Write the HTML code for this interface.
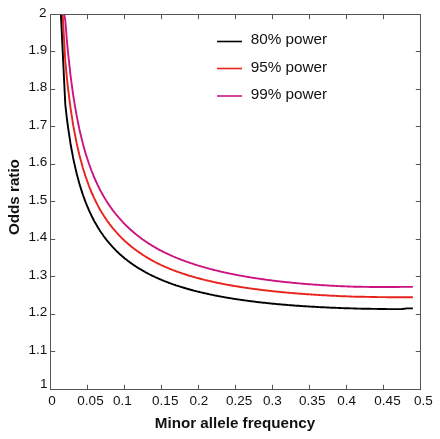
<!DOCTYPE html>
<html><head><meta charset="utf-8"><title>Power curves</title>
<style>
html,body{margin:0;padding:0;background:#fff;}
svg{display:block;font-family:"Liberation Sans",sans-serif;}
</style></head><body>
<svg width="440" height="439" viewBox="0 0 440 439">
<rect width="440" height="439" fill="#fff"/>
<g fill="none" stroke-width="1.9" stroke-linejoin="round" stroke-linecap="butt">
<path d="M64.2,14.5 L65.3,20.5 L66.2,31.6 L67.0,41.8 L67.9,51.1 L68.8,59.7 L69.7,67.7 L70.5,75.1 L71.4,82.0 L72.3,88.5 L73.1,94.5 L74.0,100.2 L74.9,105.6 L75.8,110.6 L76.6,115.4 L77.5,119.9 L78.4,124.3 L79.2,128.4 L80.1,132.3 L81.0,136.0 L81.9,139.6 L82.7,143.0 L83.6,146.2 L84.5,149.4 L85.3,152.4 L86.2,155.2 L87.1,158.0 L88.0,160.7 L88.8,163.3 L89.7,165.8 L90.6,168.2 L91.4,170.5 L92.3,172.7 L93.2,174.9 L94.0,177.0 L94.9,179.0 L95.8,181.0 L96.7,182.9 L97.5,184.7 L98.4,186.5 L99.3,188.3 L100.1,190.0 L101.0,191.6 L101.9,193.2 L102.8,194.8 L103.6,196.3 L104.5,197.8 L105.4,199.2 L106.2,200.6 L107.1,202.0 L108.0,203.4 L108.9,204.7 L109.7,205.9 L110.6,207.2 L111.5,208.4 L112.3,209.6 L113.2,210.8 L114.1,211.9 L115.0,213.0 L115.8,214.1 L116.7,215.2 L117.6,216.2 L118.4,217.2 L119.3,218.2 L120.2,219.2 L121.1,220.2 L121.9,221.1 L122.8,222.1 L123.7,223.0 L124.5,223.9 L125.4,224.8 L126.3,225.6 L127.2,226.5 L128.0,227.3 L128.9,228.1 L129.8,229.0 L130.6,229.7 L131.5,230.5 L132.4,231.3 L133.3,232.0 L134.1,232.8 L135.0,233.5 L135.9,234.2 L136.7,234.9 L137.6,235.6 L138.5,236.3 L139.4,236.9 L140.2,237.6 L141.1,238.2 L142.0,238.9 L142.8,239.5 L143.7,240.1 L144.6,240.7 L145.4,241.3 L146.3,241.9 L147.2,242.5 L148.1,243.1 L148.9,243.6 L149.8,244.2 L150.7,244.7 L151.5,245.3 L152.4,245.8 L153.3,246.3 L154.2,246.9 L155.0,247.4 L155.9,247.9 L156.8,248.4 L157.6,248.9 L158.5,249.3 L159.4,249.8 L160.3,250.3 L161.1,250.7 L162.0,251.2 L162.9,251.6 L163.7,252.1 L164.6,252.5 L165.5,252.9 L166.4,253.3 L167.2,253.7 L168.1,254.1 L169.0,254.5 L169.8,254.9 L170.7,255.3 L171.6,255.7 L172.5,256.1 L173.3,256.5 L174.2,256.9 L175.1,257.2 L175.9,257.6 L176.8,257.9 L177.7,258.3 L178.6,258.6 L179.4,259.0 L180.3,259.3 L181.2,259.7 L182.0,260.0 L182.9,260.3 L183.8,260.7 L184.7,261.0 L185.5,261.3 L186.4,261.6 L187.3,261.9 L188.1,262.2 L189.0,262.5 L189.9,262.8 L190.7,263.1 L191.6,263.4 L192.5,263.7 L193.4,264.0 L194.2,264.3 L195.1,264.6 L196.0,264.8 L196.8,265.1 L197.7,265.4 L198.6,265.6 L199.5,265.9 L200.3,266.2 L201.2,266.4 L202.1,266.7 L202.9,266.9 L203.8,267.2 L204.7,267.4 L205.6,267.7 L206.4,267.9 L207.3,268.2 L208.2,268.4 L209.0,268.6 L209.9,268.9 L210.8,269.1 L211.7,269.3 L212.5,269.6 L213.4,269.8 L214.3,270.0 L215.1,270.2 L216.0,270.4 L216.9,270.6 L217.8,270.8 L218.6,271.1 L219.5,271.3 L220.4,271.5 L221.2,271.7 L222.1,271.9 L223.0,272.1 L223.9,272.3 L224.7,272.5 L225.6,272.6 L226.5,272.8 L227.3,273.0 L228.2,273.2 L229.1,273.4 L230.0,273.6 L230.8,273.8 L231.7,273.9 L232.6,274.1 L233.4,274.3 L234.3,274.5 L235.2,274.6 L236.1,274.8 L236.9,275.0 L237.8,275.1 L238.7,275.3 L239.5,275.5 L240.4,275.6 L241.3,275.8 L242.1,275.9 L243.0,276.1 L243.9,276.3 L244.8,276.4 L245.6,276.6 L246.5,276.7 L247.4,276.9 L248.2,277.0 L249.1,277.1 L250.0,277.3 L250.9,277.4 L251.7,277.6 L252.6,277.7 L253.5,277.9 L254.3,278.0 L255.2,278.1 L256.1,278.3 L257.0,278.4 L257.8,278.5 L258.7,278.6 L259.6,278.8 L260.4,278.9 L261.3,279.0 L262.2,279.2 L263.1,279.3 L263.9,279.4 L264.8,279.5 L265.7,279.6 L266.5,279.8 L267.4,279.9 L268.3,280.0 L269.2,280.1 L270.0,280.2 L270.9,280.3 L271.8,280.4 L272.6,280.6 L273.5,280.7 L274.4,280.8 L275.3,280.9 L276.1,281.0 L277.0,281.1 L277.9,281.2 L278.7,281.3 L279.6,281.4 L280.5,281.5 L281.4,281.6 L282.2,281.7 L283.1,281.8 L284.0,281.9 L284.8,282.0 L285.7,282.1 L286.6,282.2 L287.5,282.3 L288.3,282.3 L289.2,282.4 L290.1,282.5 L290.9,282.6 L291.8,282.7 L292.7,282.8 L293.5,282.9 L294.4,283.0 L295.3,283.0 L296.2,283.1 L297.0,283.2 L297.9,283.3 L298.8,283.4 L299.6,283.4 L300.5,283.5 L301.4,283.6 L302.3,283.7 L303.1,283.7 L304.0,283.8 L304.9,283.9 L305.7,284.0 L306.6,284.0 L307.5,284.1 L308.4,284.2 L309.2,284.2 L310.1,284.3 L311.0,284.4 L311.8,284.4 L312.7,284.5 L313.6,284.6 L314.5,284.6 L315.3,284.7 L316.2,284.8 L317.1,284.8 L317.9,284.9 L318.8,284.9 L319.7,285.0 L320.6,285.1 L321.4,285.1 L322.3,285.2 L323.2,285.2 L324.0,285.3 L324.9,285.3 L325.8,285.4 L326.7,285.4 L327.5,285.5 L328.4,285.5 L329.3,285.6 L330.1,285.6 L331.0,285.7 L331.9,285.7 L332.8,285.8 L333.6,285.8 L334.5,285.9 L335.4,285.9 L336.2,286.0 L337.1,286.0 L338.0,286.1 L338.8,286.1 L339.7,286.1 L340.6,286.2 L341.5,286.2 L342.3,286.3 L343.2,286.3 L344.1,286.3 L344.9,286.4 L345.8,286.4 L346.7,286.4 L347.6,286.5 L348.4,286.5 L349.3,286.5 L350.2,286.6 L351.0,286.6 L351.9,286.6 L352.8,286.6 L353.7,286.7 L354.5,286.7 L355.4,286.7 L356.3,286.7 L357.1,286.8 L358.0,286.8 L358.9,286.8 L359.8,286.8 L360.6,286.8 L361.5,286.8 L362.4,286.9 L363.2,286.9 L364.1,286.9 L365.0,286.9 L365.9,286.9 L366.7,286.9 L367.6,286.9 L368.5,286.9 L369.3,287.0 L370.2,287.0 L371.1,287.0 L372.0,287.0 L372.8,287.0 L373.7,287.0 L374.6,287.0 L375.4,287.0 L376.3,287.0 L377.2,287.0 L378.1,287.0 L378.9,287.0 L379.8,287.0 L380.7,287.0 L381.5,287.0 L382.4,287.0 L383.3,287.0 L384.2,287.0 L385.0,287.0 L385.9,287.0 L386.8,287.0 L387.6,287.0 L388.5,287.0 L389.4,287.0 L390.2,287.0 L391.1,287.0 L392.0,287.0 L392.9,287.0 L393.7,287.0 L394.6,287.0 L395.5,287.0 L396.3,287.0 L397.2,287.0 L398.1,287.0 L399.0,287.0 L399.8,286.9 L400.7,286.9 L401.6,286.9 L402.4,286.9 L403.3,286.9 L404.2,286.9 L405.1,286.9 L405.9,286.9 L406.8,286.9 L407.7,286.9 L408.5,286.9 L409.4,286.9 L410.3,286.9 L411.2,286.9 L412.0,286.9 L412.9,286.9" stroke="#cc1480"/>
<path d="M62.7,14.5 L65.3,61.3 L66.2,70.7 L67.0,79.3 L67.9,87.2 L68.8,94.5 L69.7,101.4 L70.5,107.7 L71.4,113.7 L72.3,119.3 L73.1,124.6 L74.0,129.5 L74.9,134.2 L75.8,138.6 L76.6,142.9 L77.5,146.9 L78.4,150.7 L79.2,154.3 L80.1,157.8 L81.0,161.1 L81.9,164.3 L82.7,167.3 L83.6,170.2 L84.5,173.0 L85.3,175.7 L86.2,178.3 L87.1,180.8 L88.0,183.2 L88.8,185.5 L89.7,187.8 L90.6,189.9 L91.4,192.0 L92.3,194.0 L93.2,196.0 L94.0,197.9 L94.9,199.7 L95.8,201.5 L96.7,203.2 L97.5,204.9 L98.4,206.6 L99.3,208.2 L100.1,209.7 L101.0,211.2 L101.9,212.7 L102.8,214.1 L103.6,215.5 L104.5,216.8 L105.4,218.1 L106.2,219.4 L107.1,220.7 L108.0,221.9 L108.9,223.1 L109.7,224.3 L110.6,225.4 L111.5,226.5 L112.3,227.6 L113.2,228.7 L114.1,229.7 L115.0,230.7 L115.8,231.7 L116.7,232.7 L117.6,233.6 L118.4,234.6 L119.3,235.5 L120.2,236.4 L121.1,237.3 L121.9,238.1 L122.8,239.0 L123.7,239.8 L124.5,240.7 L125.4,241.5 L126.3,242.3 L127.2,243.0 L128.0,243.8 L128.9,244.5 L129.8,245.3 L130.6,246.0 L131.5,246.7 L132.4,247.4 L133.3,248.1 L134.1,248.8 L135.0,249.4 L135.9,250.1 L136.7,250.7 L137.6,251.3 L138.5,251.9 L139.4,252.6 L140.2,253.2 L141.1,253.7 L142.0,254.3 L142.8,254.9 L143.7,255.5 L144.6,256.0 L145.4,256.5 L146.3,257.1 L147.2,257.6 L148.1,258.1 L148.9,258.6 L149.8,259.1 L150.7,259.6 L151.5,260.1 L152.4,260.6 L153.3,261.1 L154.2,261.5 L155.0,262.0 L155.9,262.5 L156.8,262.9 L157.6,263.4 L158.5,263.8 L159.4,264.2 L160.3,264.6 L161.1,265.0 L162.0,265.4 L162.9,265.8 L163.7,266.2 L164.6,266.6 L165.5,267.0 L166.4,267.4 L167.2,267.7 L168.1,268.1 L169.0,268.5 L169.8,268.8 L170.7,269.2 L171.6,269.5 L172.5,269.9 L173.3,270.2 L174.2,270.5 L175.1,270.8 L175.9,271.2 L176.8,271.5 L177.7,271.8 L178.6,272.1 L179.4,272.4 L180.3,272.7 L181.2,273.0 L182.0,273.3 L182.9,273.6 L183.8,273.9 L184.7,274.2 L185.5,274.5 L186.4,274.7 L187.3,275.0 L188.1,275.3 L189.0,275.6 L189.9,275.8 L190.7,276.1 L191.6,276.3 L192.5,276.6 L193.4,276.8 L194.2,277.1 L195.1,277.3 L196.0,277.6 L196.8,277.8 L197.7,278.1 L198.6,278.3 L199.5,278.5 L200.3,278.8 L201.2,279.0 L202.1,279.2 L202.9,279.4 L203.8,279.6 L204.7,279.9 L205.6,280.1 L206.4,280.3 L207.3,280.5 L208.2,280.7 L209.0,280.9 L209.9,281.1 L210.8,281.3 L211.7,281.5 L212.5,281.7 L213.4,281.9 L214.3,282.1 L215.1,282.3 L216.0,282.5 L216.9,282.7 L217.8,282.8 L218.6,283.0 L219.5,283.2 L220.4,283.4 L221.2,283.5 L222.1,283.7 L223.0,283.9 L223.9,284.1 L224.7,284.2 L225.6,284.4 L226.5,284.6 L227.3,284.7 L228.2,284.9 L229.1,285.0 L230.0,285.2 L230.8,285.4 L231.7,285.5 L232.6,285.7 L233.4,285.8 L234.3,286.0 L235.2,286.1 L236.1,286.2 L236.9,286.4 L237.8,286.5 L238.7,286.7 L239.5,286.8 L240.4,287.0 L241.3,287.1 L242.1,287.2 L243.0,287.4 L243.9,287.5 L244.8,287.6 L245.6,287.8 L246.5,287.9 L247.4,288.0 L248.2,288.1 L249.1,288.3 L250.0,288.4 L250.9,288.5 L251.7,288.6 L252.6,288.7 L253.5,288.9 L254.3,289.0 L255.2,289.1 L256.1,289.2 L257.0,289.3 L257.8,289.4 L258.7,289.5 L259.6,289.7 L260.4,289.8 L261.3,289.9 L262.2,290.0 L263.1,290.1 L263.9,290.2 L264.8,290.3 L265.7,290.4 L266.5,290.5 L267.4,290.6 L268.3,290.7 L269.2,290.8 L270.0,290.9 L270.9,291.0 L271.8,291.1 L272.6,291.2 L273.5,291.3 L274.4,291.4 L275.3,291.5 L276.1,291.5 L277.0,291.6 L277.9,291.7 L278.7,291.8 L279.6,291.9 L280.5,292.0 L281.4,292.1 L282.2,292.2 L283.1,292.2 L284.0,292.3 L284.8,292.4 L285.7,292.5 L286.6,292.6 L287.5,292.6 L288.3,292.7 L289.2,292.8 L290.1,292.9 L290.9,292.9 L291.8,293.0 L292.7,293.1 L293.5,293.2 L294.4,293.2 L295.3,293.3 L296.2,293.4 L297.0,293.5 L297.9,293.5 L298.8,293.6 L299.6,293.7 L300.5,293.7 L301.4,293.8 L302.3,293.9 L303.1,293.9 L304.0,294.0 L304.9,294.0 L305.7,294.1 L306.6,294.2 L307.5,294.2 L308.4,294.3 L309.2,294.4 L310.1,294.4 L311.0,294.5 L311.8,294.5 L312.7,294.6 L313.6,294.6 L314.5,294.7 L315.3,294.8 L316.2,294.8 L317.1,294.9 L317.9,294.9 L318.8,295.0 L319.7,295.0 L320.6,295.1 L321.4,295.1 L322.3,295.2 L323.2,295.2 L324.0,295.3 L324.9,295.3 L325.8,295.4 L326.7,295.4 L327.5,295.5 L328.4,295.5 L329.3,295.6 L330.1,295.6 L331.0,295.7 L331.9,295.7 L332.8,295.7 L333.6,295.8 L334.5,295.8 L335.4,295.9 L336.2,295.9 L337.1,296.0 L338.0,296.0 L338.8,296.0 L339.7,296.1 L340.6,296.1 L341.5,296.2 L342.3,296.2 L343.2,296.2 L344.1,296.3 L344.9,296.3 L345.8,296.3 L346.7,296.4 L347.6,296.4 L348.4,296.4 L349.3,296.5 L350.2,296.5 L351.0,296.5 L351.9,296.6 L352.8,296.6 L353.7,296.6 L354.5,296.6 L355.4,296.7 L356.3,296.7 L357.1,296.7 L358.0,296.7 L358.9,296.7 L359.8,296.8 L360.6,296.8 L361.5,296.8 L362.4,296.8 L363.2,296.8 L364.1,296.8 L365.0,296.9 L365.9,296.9 L366.7,296.9 L367.6,296.9 L368.5,296.9 L369.3,296.9 L370.2,297.0 L371.1,297.0 L372.0,297.0 L372.8,297.0 L373.7,297.0 L374.6,297.0 L375.4,297.0 L376.3,297.0 L377.2,297.1 L378.1,297.1 L378.9,297.1 L379.8,297.1 L380.7,297.1 L381.5,297.1 L382.4,297.1 L383.3,297.1 L384.2,297.1 L385.0,297.1 L385.9,297.1 L386.8,297.1 L387.6,297.2 L388.5,297.2 L389.4,297.2 L390.2,297.2 L391.1,297.2 L392.0,297.2 L392.9,297.2 L393.7,297.2 L394.6,297.2 L395.5,297.2 L396.3,297.2 L397.2,297.2 L398.1,297.2 L399.0,297.2 L399.8,297.2 L400.7,297.2 L401.6,297.2 L402.4,297.2 L403.3,297.2 L404.2,297.2 L405.1,297.2 L405.9,297.2 L406.8,297.2 L407.7,297.3 L408.5,297.3 L409.4,297.3 L410.3,297.3 L411.2,297.3 L412.0,297.3 L412.9,297.3" stroke="#e8231c"/>
<path d="M60.9,14.5 L65.3,104.5 L66.2,112.3 L67.0,119.5 L67.9,126.2 L68.8,132.3 L69.7,138.1 L70.5,143.5 L71.4,148.5 L72.3,153.2 L73.1,157.7 L74.0,161.9 L74.9,165.9 L75.8,169.7 L76.6,173.3 L77.5,176.7 L78.4,179.9 L79.2,183.0 L80.1,186.0 L81.0,188.9 L81.9,191.6 L82.7,194.2 L83.6,196.7 L84.5,199.1 L85.3,201.4 L86.2,203.7 L87.1,205.8 L88.0,207.9 L88.8,209.9 L89.7,211.8 L90.6,213.7 L91.4,215.5 L92.3,217.3 L93.2,219.0 L94.0,220.7 L94.9,222.3 L95.8,223.8 L96.7,225.3 L97.5,226.8 L98.4,228.2 L99.3,229.6 L100.1,231.0 L101.0,232.3 L101.9,233.5 L102.8,234.8 L103.6,236.0 L104.5,237.2 L105.4,238.4 L106.2,239.5 L107.1,240.6 L108.0,241.7 L108.9,242.7 L109.7,243.7 L110.6,244.7 L111.5,245.7 L112.3,246.7 L113.2,247.6 L114.1,248.5 L115.0,249.4 L115.8,250.3 L116.7,251.2 L117.6,252.0 L118.4,252.8 L119.3,253.7 L120.2,254.5 L121.1,255.2 L121.9,256.0 L122.8,256.7 L123.7,257.5 L124.5,258.2 L125.4,258.9 L126.3,259.6 L127.2,260.3 L128.0,261.0 L128.9,261.6 L129.8,262.3 L130.6,262.9 L131.5,263.5 L132.4,264.1 L133.3,264.7 L134.1,265.3 L135.0,265.9 L135.9,266.5 L136.7,267.0 L137.6,267.6 L138.5,268.1 L139.4,268.7 L140.2,269.2 L141.1,269.7 L142.0,270.2 L142.8,270.7 L143.7,271.2 L144.6,271.7 L145.4,272.2 L146.3,272.7 L147.2,273.1 L148.1,273.6 L148.9,274.0 L149.8,274.5 L150.7,274.9 L151.5,275.3 L152.4,275.8 L153.3,276.2 L154.2,276.6 L155.0,277.0 L155.9,277.4 L156.8,277.8 L157.6,278.2 L158.5,278.6 L159.4,279.0 L160.3,279.3 L161.1,279.7 L162.0,280.1 L162.9,280.4 L163.7,280.8 L164.6,281.1 L165.5,281.5 L166.4,281.8 L167.2,282.1 L168.1,282.5 L169.0,282.8 L169.8,283.1 L170.7,283.4 L171.6,283.8 L172.5,284.1 L173.3,284.4 L174.2,284.7 L175.1,285.0 L175.9,285.3 L176.8,285.6 L177.7,285.8 L178.6,286.1 L179.4,286.4 L180.3,286.7 L181.2,287.0 L182.0,287.2 L182.9,287.5 L183.8,287.8 L184.7,288.0 L185.5,288.3 L186.4,288.5 L187.3,288.8 L188.1,289.0 L189.0,289.3 L189.9,289.5 L190.7,289.8 L191.6,290.0 L192.5,290.2 L193.4,290.5 L194.2,290.7 L195.1,290.9 L196.0,291.1 L196.8,291.4 L197.7,291.6 L198.6,291.8 L199.5,292.0 L200.3,292.2 L201.2,292.4 L202.1,292.6 L202.9,292.8 L203.8,293.0 L204.7,293.2 L205.6,293.4 L206.4,293.6 L207.3,293.8 L208.2,294.0 L209.0,294.2 L209.9,294.4 L210.8,294.6 L211.7,294.7 L212.5,294.9 L213.4,295.1 L214.3,295.3 L215.1,295.5 L216.0,295.6 L216.9,295.8 L217.8,296.0 L218.6,296.1 L219.5,296.3 L220.4,296.5 L221.2,296.6 L222.1,296.8 L223.0,296.9 L223.9,297.1 L224.7,297.3 L225.6,297.4 L226.5,297.6 L227.3,297.7 L228.2,297.9 L229.1,298.0 L230.0,298.1 L230.8,298.3 L231.7,298.4 L232.6,298.6 L233.4,298.7 L234.3,298.9 L235.2,299.0 L236.1,299.1 L236.9,299.3 L237.8,299.4 L238.7,299.5 L239.5,299.6 L240.4,299.8 L241.3,299.9 L242.1,300.0 L243.0,300.1 L243.9,300.3 L244.8,300.4 L245.6,300.5 L246.5,300.6 L247.4,300.7 L248.2,300.9 L249.1,301.0 L250.0,301.1 L250.9,301.2 L251.7,301.3 L252.6,301.4 L253.5,301.5 L254.3,301.6 L255.2,301.7 L256.1,301.9 L257.0,302.0 L257.8,302.1 L258.7,302.2 L259.6,302.3 L260.4,302.4 L261.3,302.5 L262.2,302.6 L263.1,302.7 L263.9,302.8 L264.8,302.8 L265.7,302.9 L266.5,303.0 L267.4,303.1 L268.3,303.2 L269.2,303.3 L270.0,303.4 L270.9,303.5 L271.8,303.6 L272.6,303.7 L273.5,303.7 L274.4,303.8 L275.3,303.9 L276.1,304.0 L277.0,304.1 L277.9,304.2 L278.7,304.2 L279.6,304.3 L280.5,304.4 L281.4,304.5 L282.2,304.5 L283.1,304.6 L284.0,304.7 L284.8,304.8 L285.7,304.8 L286.6,304.9 L287.5,305.0 L288.3,305.1 L289.2,305.1 L290.1,305.2 L290.9,305.3 L291.8,305.3 L292.7,305.4 L293.5,305.5 L294.4,305.5 L295.3,305.6 L296.2,305.7 L297.0,305.7 L297.9,305.8 L298.8,305.8 L299.6,305.9 L300.5,306.0 L301.4,306.0 L302.3,306.1 L303.1,306.1 L304.0,306.2 L304.9,306.3 L305.7,306.3 L306.6,306.4 L307.5,306.4 L308.4,306.5 L309.2,306.5 L310.1,306.6 L311.0,306.6 L311.8,306.7 L312.7,306.7 L313.6,306.8 L314.5,306.8 L315.3,306.9 L316.2,306.9 L317.1,307.0 L317.9,307.0 L318.8,307.1 L319.7,307.1 L320.6,307.2 L321.4,307.2 L322.3,307.3 L323.2,307.3 L324.0,307.3 L324.9,307.4 L325.8,307.4 L326.7,307.5 L327.5,307.5 L328.4,307.5 L329.3,307.6 L330.1,307.6 L331.0,307.7 L331.9,307.7 L332.8,307.7 L333.6,307.8 L334.5,307.8 L335.4,307.8 L336.2,307.9 L337.1,307.9 L338.0,307.9 L338.8,308.0 L339.7,308.0 L340.6,308.0 L341.5,308.1 L342.3,308.1 L343.2,308.1 L344.1,308.2 L344.9,308.2 L345.8,308.2 L346.7,308.3 L347.6,308.3 L348.4,308.3 L349.3,308.3 L350.2,308.4 L351.0,308.4 L351.9,308.4 L352.8,308.4 L353.7,308.5 L354.5,308.5 L355.4,308.5 L356.3,308.5 L357.1,308.6 L358.0,308.6 L358.9,308.6 L359.8,308.6 L360.6,308.6 L361.5,308.7 L362.4,308.7 L363.2,308.7 L364.1,308.7 L365.0,308.7 L365.9,308.8 L366.7,308.8 L367.6,308.8 L368.5,308.8 L369.3,308.8 L370.2,308.8 L371.1,308.9 L372.0,308.9 L372.8,308.9 L373.7,308.9 L374.6,308.9 L375.4,308.9 L376.3,308.9 L377.2,308.9 L378.1,309.0 L378.9,309.0 L379.8,309.0 L380.7,309.0 L381.5,309.0 L382.4,309.0 L383.3,309.0 L384.2,309.0 L385.0,309.0 L385.9,309.0 L386.8,309.1 L387.6,309.1 L388.5,309.1 L389.4,309.1 L390.2,309.1 L391.1,309.1 L392.0,309.1 L392.9,309.1 L393.7,309.1 L394.6,309.1 L395.5,309.1 L396.3,309.1 L397.2,309.1 L398.1,309.1 L399.0,309.1 L399.8,309.1 L400.7,309.1 L401.6,309.1 L402.4,309.0 L403.3,308.9 L404.2,308.8 L405.1,308.7 L405.9,308.5 L406.8,308.4 L407.7,308.4 L408.5,308.4 L409.4,308.4 L410.3,308.4 L411.2,308.4 L412.0,308.4 L412.9,308.4" stroke="#000"/>
</g>
<g fill="none" stroke="#555" stroke-width="1">
<rect x="50.5" y="14.5" width="370.0" height="375.0"/>
<path d="M87.5,389.5v-4.7M87.5,14.5v4.7"/><path d="M124.5,389.5v-4.7M124.5,14.5v4.7"/><path d="M161.5,389.5v-4.7M161.5,14.5v4.7"/><path d="M198.5,389.5v-4.7M198.5,14.5v4.7"/><path d="M235.5,389.5v-4.7M235.5,14.5v4.7"/><path d="M272.5,389.5v-4.7M272.5,14.5v4.7"/><path d="M309.5,389.5v-4.7M309.5,14.5v4.7"/><path d="M346.5,389.5v-4.7M346.5,14.5v4.7"/><path d="M383.5,389.5v-4.7M383.5,14.5v4.7"/><path d="M50.5,351.5h4.7M420.5,351.5h-4.7"/><path d="M50.5,314.5h4.7M420.5,314.5h-4.7"/><path d="M50.5,276.5h4.7M420.5,276.5h-4.7"/><path d="M50.5,239.5h4.7M420.5,239.5h-4.7"/><path d="M50.5,201.5h4.7M420.5,201.5h-4.7"/><path d="M50.5,164.5h4.7M420.5,164.5h-4.7"/><path d="M50.5,126.5h4.7M420.5,126.5h-4.7"/><path d="M50.5,89.5h4.7M420.5,89.5h-4.7"/><path d="M50.5,51.5h4.7M420.5,51.5h-4.7"/>
</g>
<g fill="none" stroke-width="1.6">
<path d="M217,41.5h25" stroke="#000"/>
<path d="M217,68.5h25" stroke="#e8231c"/>
<path d="M217,96h25" stroke="#cc1480"/>
</g>
<g font-size="15.3" fill="#111">
<text x="250.7" y="44.2">80% power</text>
<text x="250.7" y="71.5">95% power</text>
<text x="250.7" y="99.2">99% power</text>
</g>
<g font-size="13.5" fill="#111">
<text x="51.9" y="405.4" text-anchor="middle">0</text><text x="90.5" y="405.4" text-anchor="middle">0.05</text><text x="122.4" y="405.4" text-anchor="middle">0.1</text><text x="165.25" y="405.4" text-anchor="middle">0.15</text><text x="199" y="405.4" text-anchor="middle">0.2</text><text x="239.1" y="405.4" text-anchor="middle">0.25</text><text x="272.5" y="405.4" text-anchor="middle">0.3</text><text x="312.25" y="405.4" text-anchor="middle">0.35</text><text x="346.6" y="405.4" text-anchor="middle">0.4</text><text x="387.5" y="405.4" text-anchor="middle">0.45</text><text x="423.4" y="405.4" text-anchor="middle">0.5</text>
<text x="47.4" y="388.0" text-anchor="end">1</text><text x="47.4" y="353.5" text-anchor="end">1.1</text><text x="47.4" y="316.0" text-anchor="end">1.2</text><text x="47.4" y="278.5" text-anchor="end">1.3</text><text x="47.4" y="241.0" text-anchor="end">1.4</text><text x="47.4" y="203.5" text-anchor="end">1.5</text><text x="47.4" y="166.0" text-anchor="end">1.6</text><text x="47.4" y="128.5" text-anchor="end">1.7</text><text x="47.4" y="91.0" text-anchor="end">1.8</text><text x="47.4" y="53.5" text-anchor="end">1.9</text><text x="46.4" y="17.3" text-anchor="end">2</text>
</g>
<g font-size="15.2" font-weight="bold" fill="#111">
<text x="235" y="428" text-anchor="middle">Minor allele frequency</text>
<text transform="translate(18.6,197.1) rotate(-90)" text-anchor="middle">Odds ratio</text>
</g>
</svg>
</body></html>
